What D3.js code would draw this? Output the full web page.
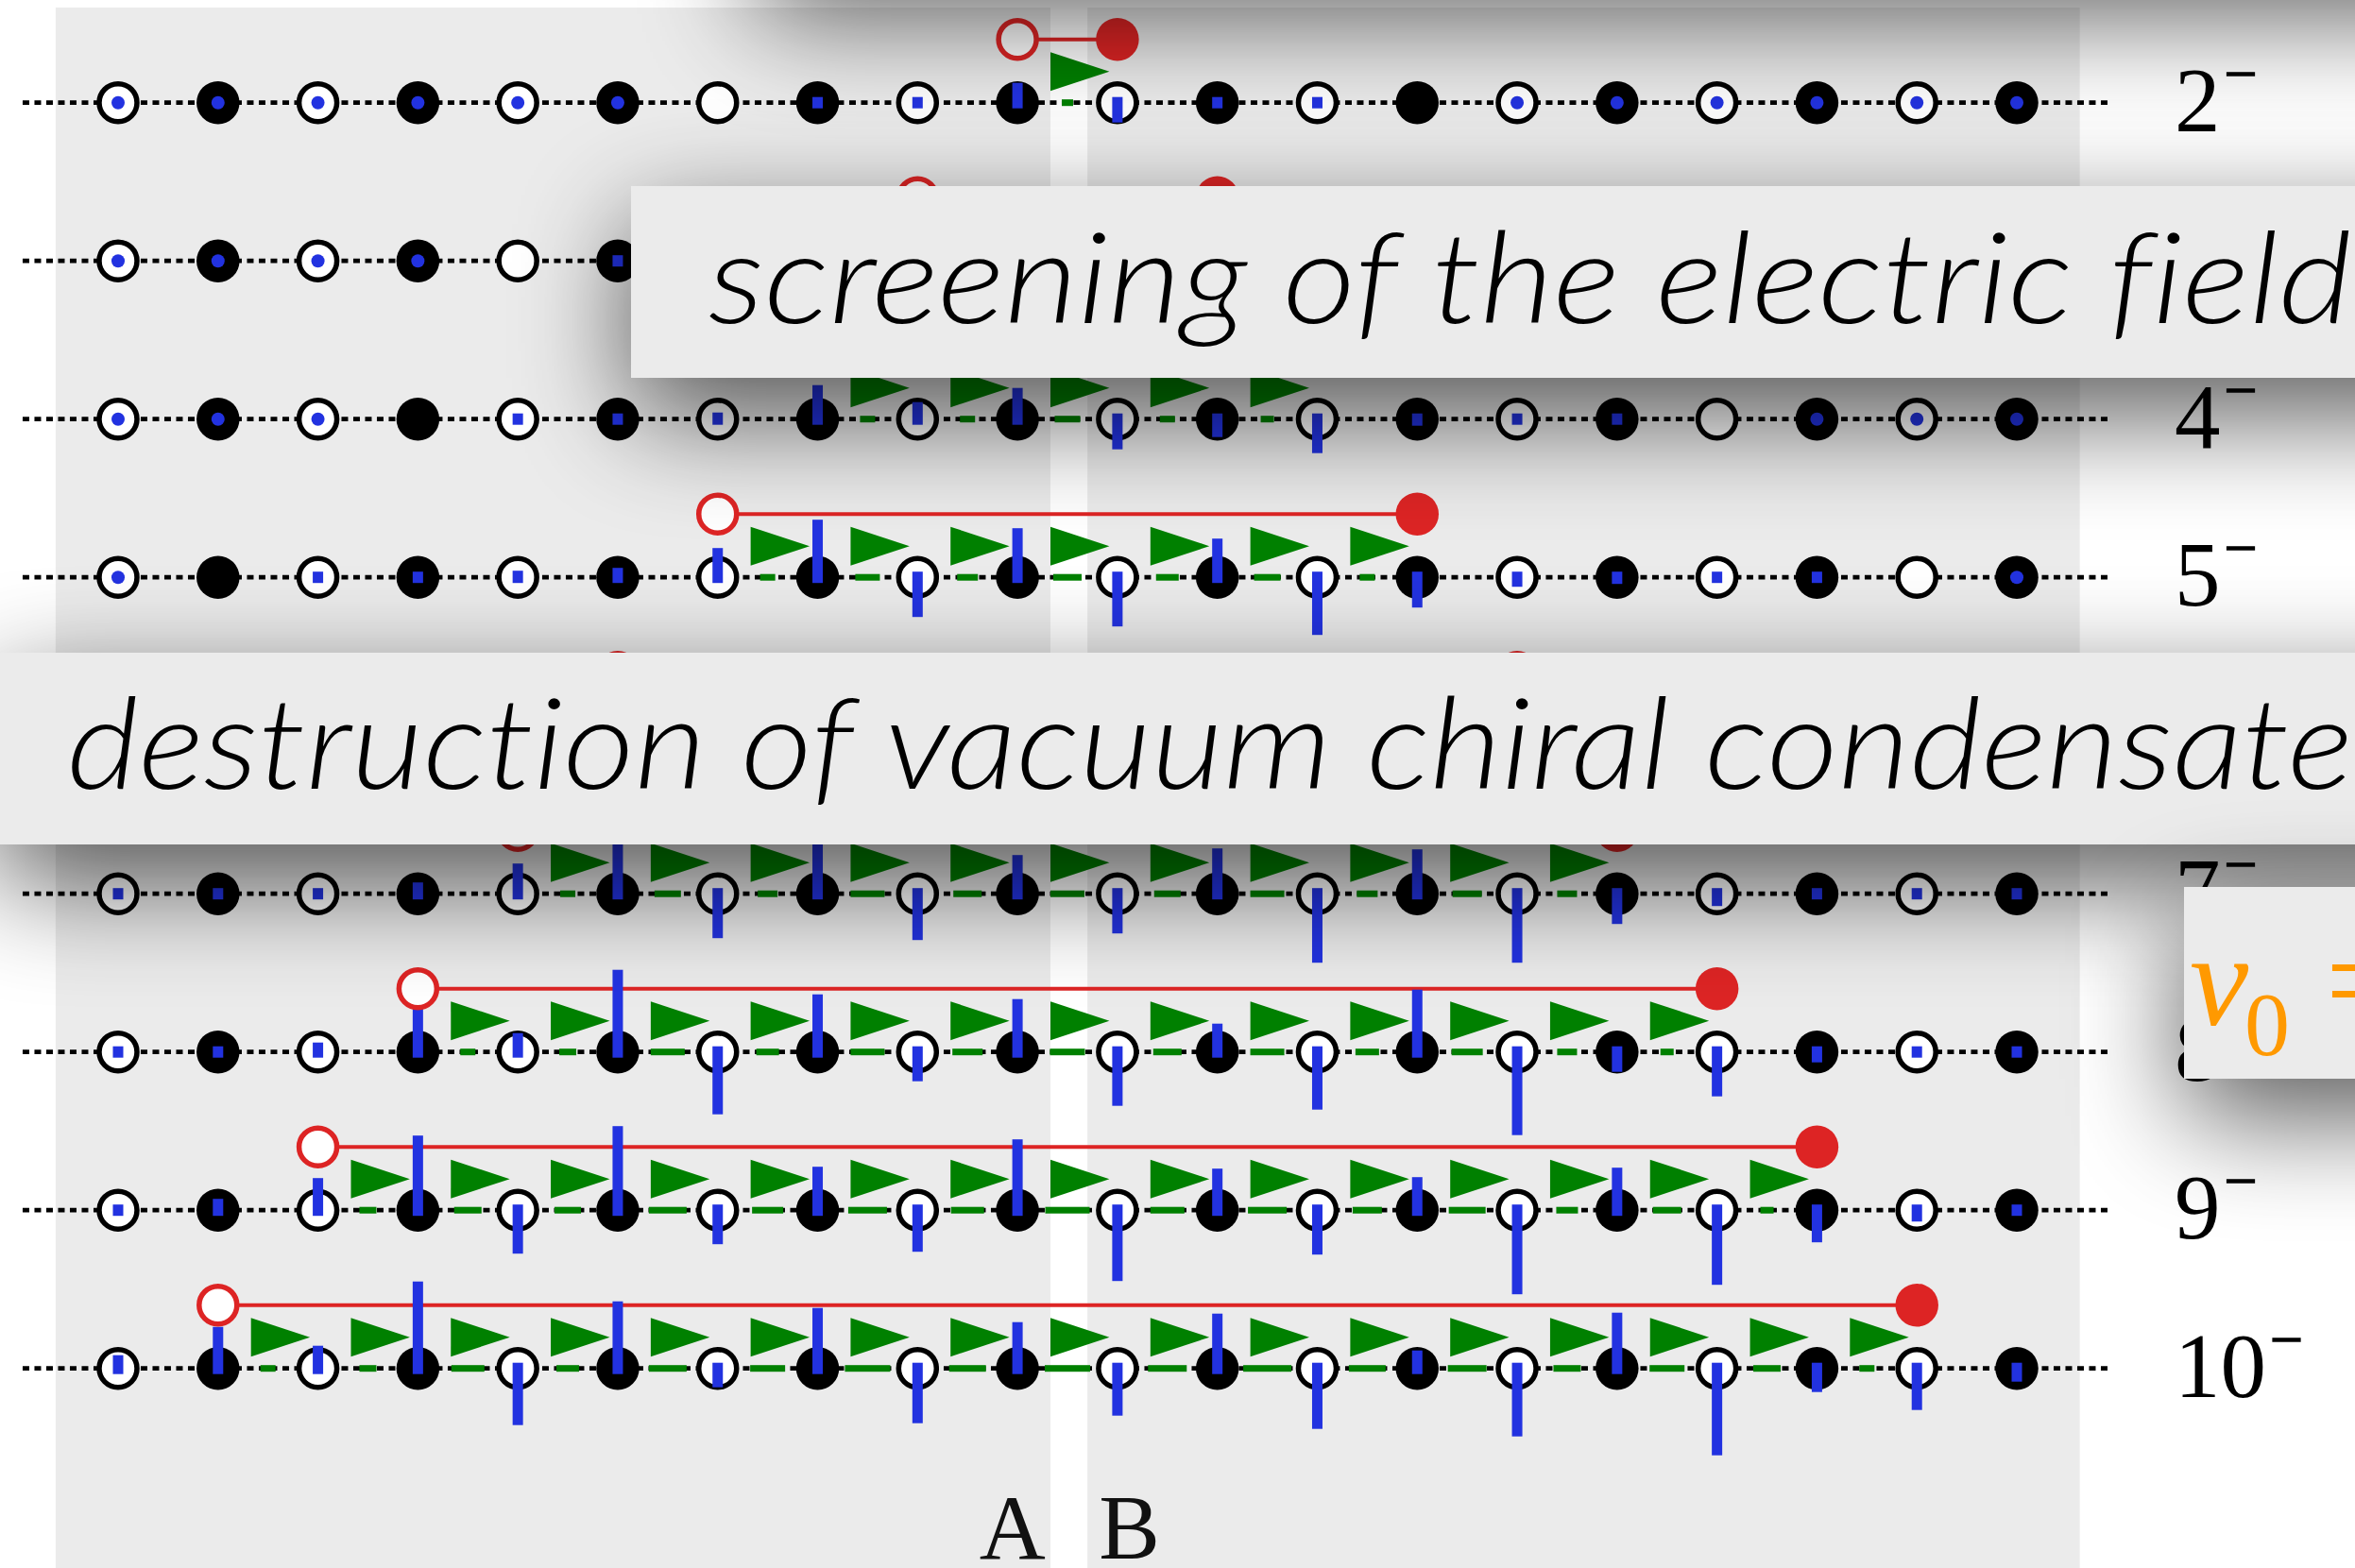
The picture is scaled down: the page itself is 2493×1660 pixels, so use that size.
<!DOCTYPE html>
<html>
<head>
<meta charset="utf-8">
<script src="https://cdn.jsdelivr.net/npm/d3@7"></script>
<style>
  html, body { margin: 0; padding: 0; background: #fff; overflow: hidden; }
  svg { display: block; }
  .caption { font-variant-ligatures: none; font-feature-settings: "liga" 0, "clig" 0; }
</style>
</head>
<body>
<script>
const W = 2493, H = 1660;

// string levels (rows), drawn top to bottom
const levels = [2, 3, 4, 5, 6, 7, 8, 9, 10];
const levelLabels = ["2", "3", "4", "5", "6", "7", "8", "9", "10"];
// lattice site where the string starts (open red end) and ends (filled red end)
const stringStart = [9, 8, 7, 6, 5, 4, 3, 2, 1];
const stringEnd = [10, 11, 12, 13, 14, 15, 16, 17, 18];

// site charges along the 20-site chain: "o" = condensate intact,
// null = neutral, number = induced charge (positive drawn up, negative down)
const charge2 = ["o", "o", "o", "o", "o", "o", null, 0.06, 0.06, 0.21, -0.21, -0.06, -0.06, null, "o", "o", "o", "o", "o", "o"];
const charge3 = ["o", "o", "o", "o", null, 0.06, 0.06, 0.08, 0.27, 0.24, -0.24, -0.27, -0.08, -0.06, -0.06, null, "o", "o", "o", "o"];
const charge4 = ["o", "o", "o", null, 0.06, 0.06, 0.07, 0.36, 0.18, 0.33, -0.32, -0.19, -0.36, -0.07, -0.06, -0.06, null, "o", "o", "o"];
const charge5 = ["o", null, 0.06, 0.06, 0.07, 0.10, 0.31, 0.61, -0.42, 0.52, -0.52, 0.41, -0.61, -0.32, -0.10, -0.07, -0.06, -0.06, null, "o"];
const charge6 = [null, 0.06, 0.06, 0.07, 0.10, 0.40, -0.25, 0.66, -0.46, 0.52, -0.52, 0.46, -0.66, 0.25, -0.40, -0.10, -0.07, -0.06, -0.06, null];
const charge7 = [0.06, 0.06, 0.06, 0.12, 0.32, 0.73, -0.47, 0.73, -0.49, 0.41, -0.42, 0.48, -0.73, 0.47, -0.73, -0.32, -0.13, -0.06, -0.06, -0.06];
const charge8 = [0.06, 0.06, 0.10, 0.46, 0.20, 0.87, -0.66, 0.61, -0.31, 0.56, -0.57, 0.30, -0.61, 0.66, -0.88, -0.21, -0.47, -0.11, -0.06, -0.06];
const charge9 = [0.06, 0.12, 0.34, 0.79, -0.46, 0.89, -0.36, 0.46, -0.44, 0.75, -0.75, 0.44, -0.47, 0.35, -0.89, 0.45, -0.79, -0.34, -0.12, -0.06];
const charge10 = [0.14, 0.44, 0.24, 0.92, -0.60, 0.71, -0.20, 0.64, -0.58, 0.49, -0.50, 0.58, -0.64, 0.19, -0.72, 0.59, -0.92, -0.25, -0.44, -0.14];

// electric field on each link of the string, from start site to end site
const field2 = [0.12];
const field3 = [0.14, 0.20, 0.14];
const field4 = [0.16, 0.16, 0.27, 0.16, 0.14];
const field5 = [0.16, 0.26, 0.22, 0.30, 0.24, 0.28, 0.16];
const field6 = [0.16, 0.26, 0.22, 0.32, 0.28, 0.32, 0.22, 0.26, 0.16];
const field7 = [0.16, 0.28, 0.21, 0.36, 0.30, 0.36, 0.28, 0.36, 0.22, 0.31, 0.21];
const field8 = [0.16, 0.18, 0.36, 0.24, 0.36, 0.32, 0.37, 0.30, 0.36, 0.25, 0.33, 0.21, 0.14];
const field9 = [0.18, 0.29, 0.28, 0.40, 0.33, 0.41, 0.35, 0.47, 0.36, 0.41, 0.31, 0.39, 0.23, 0.30, 0.14];
const field10 = [0.16, 0.18, 0.35, 0.24, 0.40, 0.37, 0.48, 0.39, 0.48, 0.41, 0.51, 0.39, 0.41, 0.29, 0.37, 0.29, 0.16];

const sublatticeLabels = ["A", "B"];
const captionScreening = "screening of the electric field";
const captionDestruction = "destruction of vacuum chiral condensate";

const charges = [charge2, charge3, charge4, charge5, charge6, charge7, charge8, charge9, charge10];
const fields = [field2, field3, field4, field5, field6, field7, field8, field9, field10];
const rows = levels.map((lv, i) => ({
  level: lv, label: levelLabels[i], start: stringStart[i], end: stringEnd[i],
  charge: charges[i], field: fields[i]
}));

const COL = { blue: "#2232e0", red: "#dd2424", green: "#008000", panel: "#ebebeb" };

const svg = d3.select("body").append("svg").attr("width", W).attr("height", H);

const x = d3.scaleLinear().domain([0, 19]).range([125, 2135]);
const y = d3.scaleLinear().domain([2, 10]).range([108.7, 1448.7]);
const mag = d3.scaleLinear().domain([0, 1]).range([0, 100]);

// soft drop shadow shared by the caption cards
const defs = svg.append("defs");
const flt = defs.append("filter").attr("id", "cardShadow")
  .attr("filterUnits", "userSpaceOnUse")
  .attr("x", -700).attr("y", -900).attr("width", 4000).attr("height", 3400);
flt.append("feGaussianBlur").attr("in", "SourceAlpha").attr("stdDeviation", 60).attr("result", "blur");
flt.append("feOffset").attr("in", "blur").attr("dx", 0).attr("dy", 40).attr("result", "off");
flt.append("feComponentTransfer").attr("in", "off").attr("result", "shade")
  .append("feFuncA").attr("type", "linear").attr("slope", 0.65);
const merge = flt.append("feMerge");
merge.append("feMergeNode").attr("in", "shade");
merge.append("feMergeNode").attr("in", "SourceGraphic");

// sublattice panels
const panels = [[-0.625, 9.33], [9.7, 19.63]];
svg.append("g").selectAll("rect").data(panels).join("rect")
  .attr("x", d => x(d[0])).attr("y", 8)
  .attr("width", d => x(d[1]) - x(d[0])).attr("height", H)
  .attr("fill", COL.panel);

const serif = "'Liberation Serif', 'Times New Roman', serif";

// sublattice labels
svg.append("g").selectAll("text").data(sublatticeLabels).join("text")
  .attr("x", (d, i) => i === 0 ? x(8.95) : x(10.12))
  .attr("y", 1650)
  .attr("text-anchor", "middle")
  .attr("font-family", serif)
  .attr("font-size", 97)
  .attr("fill", "#111")
  .text(d => d);

const sites = d3.range(20);

rows.forEach(row => {
  const y0 = y(row.level);
  const g = svg.append("g").attr("class", "row");

  // chain (dotted)
  g.append("line")
    .attr("x1", x(-0.955)).attr("x2", x(19.95))
    .attr("y1", y0).attr("y2", y0)
    .attr("stroke", "#000").attr("stroke-width", 4.8)
    .attr("stroke-dasharray", "7 5.5");

  // electric field on the links
  g.append("g").selectAll("rect").data(row.field).join("rect")
    .attr("x", (d, i) => x(row.start + i + 0.5) - mag(d) / 2)
    .attr("y", y0 - 3.5)
    .attr("width", d => mag(d)).attr("height", 7)
    .attr("fill", COL.green);

  // lattice sites: even = open, odd = filled
  g.append("g").selectAll("circle").data(sites).join("circle")
    .attr("cx", d => x(d)).attr("cy", y0)
    .attr("r", d => d % 2 === 0 ? 20 : 22.75)
    .attr("fill", d => d % 2 === 0 ? "#fff" : "#000")
    .attr("stroke", d => d % 2 === 0 ? "#000" : "none")
    .attr("stroke-width", 5.5);

  // string between the red ends
  const ry = y0 - 67;
  g.append("line")
    .attr("x1", x(row.start)).attr("x2", x(row.end))
    .attr("y1", ry).attr("y2", ry)
    .attr("stroke", COL.red).attr("stroke-width", 4);

  // condensate dots and charge bars
  const marks = sites.map(i => ({ i, v: row.charge[i] }));
  g.append("g").selectAll("circle").data(marks.filter(d => d.v === "o")).join("circle")
    .attr("cx", d => x(d.i)).attr("cy", y0).attr("r", 7).attr("fill", COL.blue);
  g.append("g").selectAll("rect").data(marks.filter(d => typeof d.v === "number")).join("rect")
    .attr("x", d => x(d.i) - 5.5).attr("width", 11)
    .attr("y", d => d.v > 0 ? y0 - mag(d.v) : y0 - 6)
    .attr("height", d => mag(Math.abs(d.v)) + 6)
    .attr("fill", COL.blue);

  // field direction arrows
  const links = d3.range(row.start, row.end);
  g.append("g").selectAll("path").data(links).join("path")
    .attr("d", i => {
      const xa = x(i + 0.33), xb = x(i + 0.92), yc = y0 - 33;
      return `M${xa},${yc - 20.5}L${xb},${yc}L${xa},${yc + 20.5}Z`;
    })
    .attr("fill", COL.green);

  // string ends
  g.append("circle").attr("cx", x(row.start)).attr("cy", ry).attr("r", 20)
    .attr("fill", "#fff").attr("stroke", COL.red).attr("stroke-width", 5.5);
  g.append("circle").attr("cx", x(row.end)).attr("cy", ry).attr("r", 22.75)
    .attr("fill", COL.red);

  // level label n^-
  const t = g.append("text")
    .attr("x", 2302).attr("y", y0 + 30)
    .attr("font-family", serif)
    .attr("font-size", 97).attr("fill", "#000");
  t.append("tspan").text(row.label);
  t.append("tspan").attr("dx", 4).attr("dy", -40).attr("font-size", 62)
    .attr("stroke", "#000").attr("stroke-width", 1.4).text("\u2212");
});

// caption cards
const cards = svg.append("g");
// card sitting above the visible area
cards.append("rect").attr("x", 800).attr("y", -520).attr("width", 2000).attr("height", 495)
  .attr("fill", COL.panel).attr("filter", "url(#cardShadow)");

cards.append("rect").attr("x", 668).attr("y", 197).attr("width", 2100).attr("height", 203)
  .attr("fill", COL.panel).attr("filter", "url(#cardShadow)");
cards.append("text").attr("class", "caption").attr("x", 750).attr("y", 342)
  .attr("font-family", "Lato, 'Open Sans', sans-serif").attr("font-style", "italic")
  .attr("font-weight", 300).attr("font-size", 134).attr("fill", "#000")
  .attr("textLength", 1740).attr("lengthAdjust", "spacingAndGlyphs")
  .text(captionScreening);

cards.append("rect").attr("x", -5).attr("y", 691).attr("width", 2800).attr("height", 203)
  .attr("fill", COL.panel).attr("filter", "url(#cardShadow)");
cards.append("text").attr("class", "caption").attr("x", 71).attr("y", 835)
  .attr("font-family", "Lato, 'Open Sans', sans-serif").attr("font-style", "italic")
  .attr("font-weight", 300).attr("font-size", 134).attr("fill", "#000")
  .attr("textLength", 2420).attr("lengthAdjust", "spacingAndGlyphs")
  .text(captionDestruction);

cards.append("rect").attr("x", 2312).attr("y", 939).attr("width", 400).attr("height", 203)
  .attr("fill", COL.panel).attr("filter", "url(#cardShadow)");
cards.append("text").attr("x", 2318).attr("y", 1085)
  .attr("font-family", serif).attr("font-style", "italic").attr("font-size", 140)
  .attr("fill", "#ff9900").text("\u03bd");
cards.append("text").attr("x", 2376).attr("y", 1117)
  .attr("font-family", serif).attr("font-size", 96)
  .attr("fill", "#ff9900").text("0");
cards.append("text").attr("x", 2462).attr("y", 1085)
  .attr("font-family", serif).attr("font-size", 140)
  .attr("fill", "#ff9900").text("=");
</script>
</body>
</html>
